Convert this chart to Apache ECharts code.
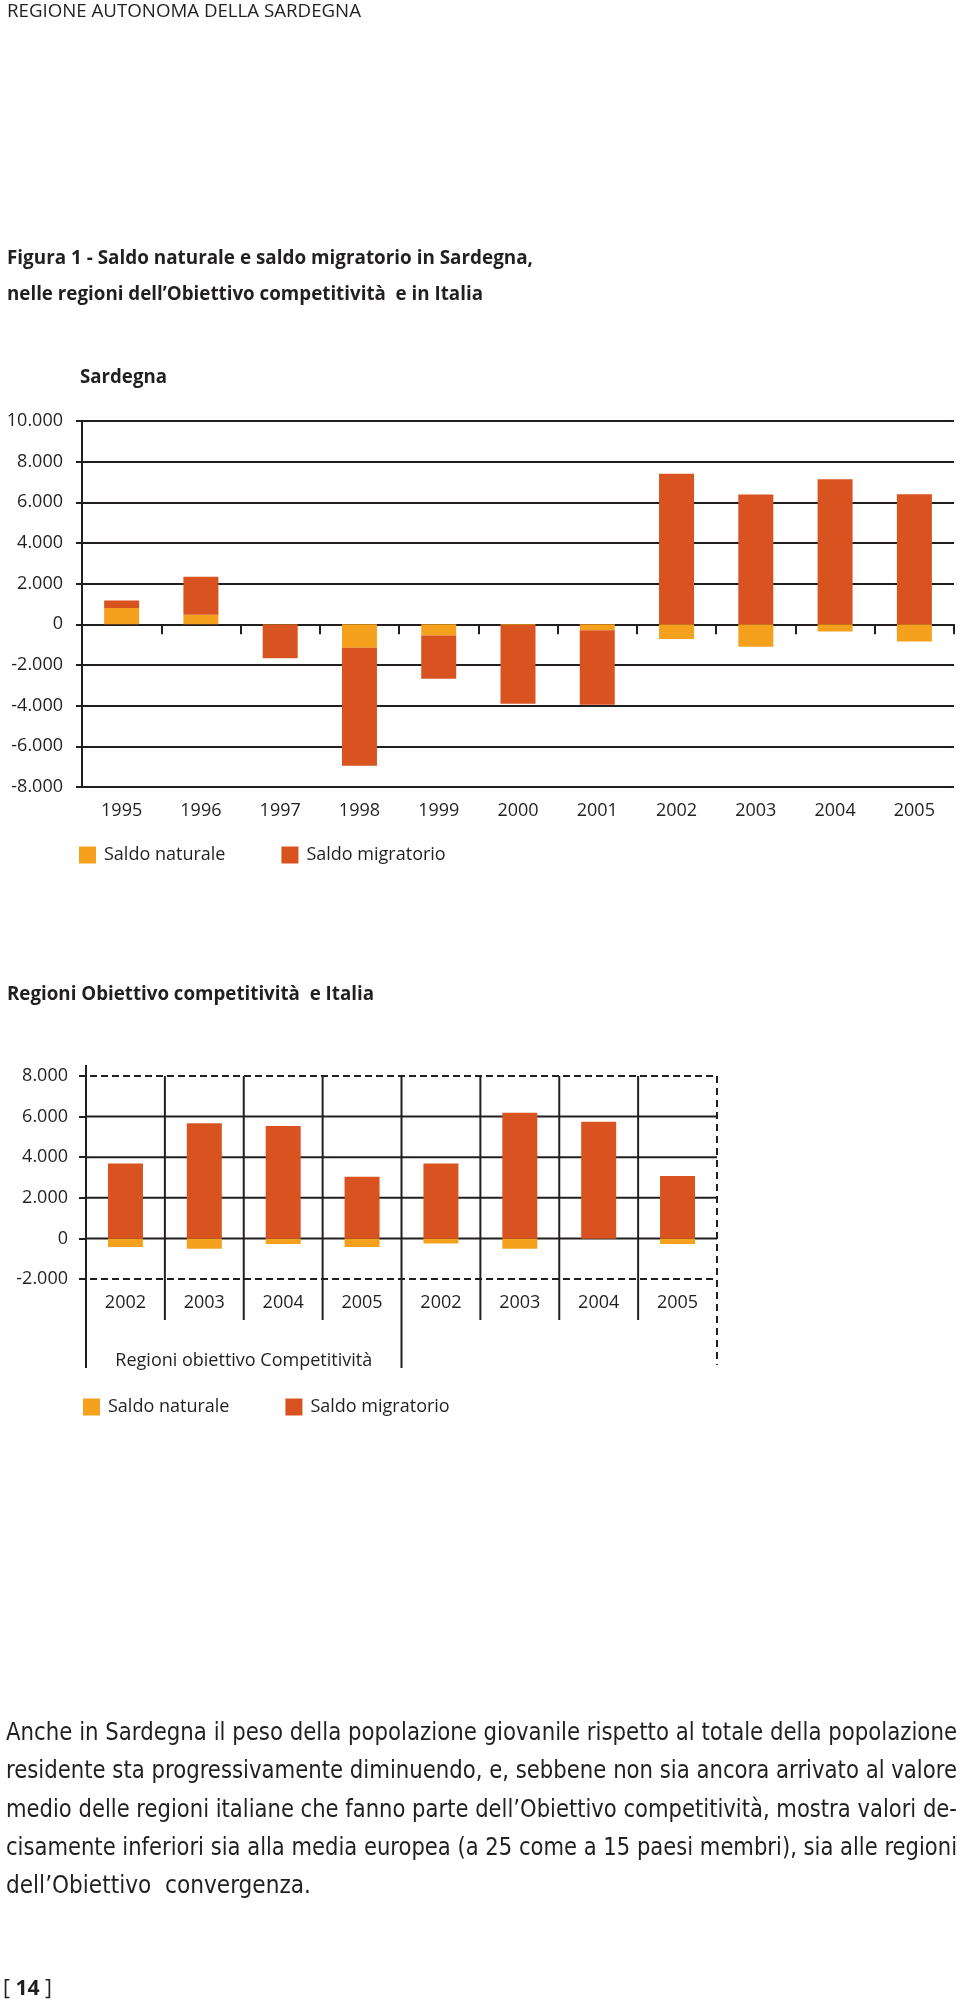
<!DOCTYPE html>
<html>
<head>
<meta charset="utf-8">
<script src="https://cdn.jsdelivr.net/npm/echarts@6/dist/echarts.min.js"></script>
<style>
  html, body { margin:0; padding:0; background:#fff; }
  body { width:960px; height:2002px; position:relative; overflow:hidden; }
  #chart { position:absolute; left:0; top:0; width:960px; height:2002px; }
  .t { position:absolute; white-space:nowrap; color:#231f20; font-family:"Open Sans", "Noto Sans", sans-serif; transform-origin:0 50%; z-index:5; }
  .b { font-weight:bold; }
  .p { font-family:"Liberation Sans Narrow","DejaVu Sans Condensed","Open Sans",sans-serif; font-size:25px; }
</style>
</head>
<body>
<div id="chart"></div>

<div class="t" data-w="354" data-cy="10" style="left:7px;font-size:19px;">REGIONE AUTONOMA DELLA SARDEGNA</div>
<div class="t b" data-w="526" data-cy="257" style="left:7px;font-size:19px;">Figura 1 - Saldo naturale e saldo migratorio in Sardegna,</div>
<div class="t b" data-w="476" data-cy="293" style="left:7px;font-size:19px;">nelle regioni dell’Obiettivo competitività&nbsp; e in Italia</div>
<div class="t b" data-w="87" data-cy="376" style="left:80px;font-size:19px;">Sardegna</div>
<div class="t b" data-w="367" data-cy="993" style="left:7px;font-size:19px;">Regioni Obiettivo competitività&nbsp; e Italia</div>

<div class="t p" data-w="951" data-j="1" data-cy="1731" style="left:6px;">Anche in Sardegna il peso della popolazione giovanile rispetto al totale della popolazione</div>
<div class="t p" data-w="951" data-j="1" data-cy="1769" style="left:6px;">residente sta progressivamente diminuendo, e, sebbene non sia ancora arrivato al valore</div>
<div class="t p" data-w="951" data-j="1" data-cy="1808" style="left:6px;">medio delle regioni italiane che fanno parte dell’Obiettivo competitività, mostra valori de-</div>
<div class="t p" data-w="951" data-j="1" data-cy="1846" style="left:6px;">cisamente inferiori sia alla media europea (a 25 come a 15 paesi membri), sia alle regioni</div>
<div class="t p" data-w="305" data-cy="1884" style="left:6px;">dell’Obiettivo&nbsp; convergenza.</div>

<div class="t" data-w="49" data-cy="1987" style="left:3px;font-size:21px;">[ <span class="b">14</span> ]</div>

<script>
// ---------- data ----------
const years1 = ['1995','1996','1997','1998','1999','2000','2001','2002','2003','2004','2005'];
const naturale1 = [800, 470, -20, -1150, -550, -30, -290, -720, -1100, -350, -840];
const migratorio1 = [370, 1870, -1650, -5800, -2130, -3880, -3660, 7400, 6380, 7140, 6400];
const yTicks1 = { min: -8000, max: 10000, step: 2000 };

const years2 = ['2002','2003','2004','2005','2002','2003','2004','2005'];
const groupLabels2 = ['Regioni obiettivo Competitività', ''];
const naturale2 = [-420, -516, -281, -420, -250, -516, -20, -281];
const migratorio2 = [3690, 5675, 5535, 3031, 3690, 6195, 5750, 3078];
const yTicks2 = [-2000, 0, 2000, 4000, 6000, 8000];

const seriesNames = ['Saldo naturale', 'Saldo migratorio'];

// ---------- styles ----------
const C_NAT = '#F6A11D';
const C_MIG = '#D8531F';
const INK = '#231f20';
const FONT = '"Open Sans", "Noto Sans", sans-serif';

const fmt = v => v === 0 ? '0' : (v < 0 ? '-' : '') + (Math.abs(v) / 1000) + '.000';

const chart = echarts.init(document.getElementById('chart'), null, { renderer: 'canvas' });

const yMin2 = yTicks2[0], yMax2 = yTicks2[yTicks2.length - 1];
const nCat2 = years2.length;
const groupBounds = [0, nCat2 / 2];

const option = {
  animation: false,
  backgroundColor: '#fff',
  textStyle: { fontFamily: FONT, color: INK },
  grid: [
    { left: 82, right: 6, top: 421, height: 366, outerBoundsMode: 'none', containLabel: false },
    { left: 86, right: 243, top: 1076, height: 203, outerBoundsMode: 'none', containLabel: false }
  ],
  legend: [
    { data: seriesNames, left: 74, top: 841, icon: 'rect', itemWidth: 17, itemHeight: 17, itemGap: 56,
      selectedMode: false, textStyle: { fontSize: 18, color: INK, fontFamily: FONT, padding: [0, 0, 0, 3] } },
    { data: seriesNames, left: 78, top: 1393, icon: 'rect', itemWidth: 17, itemHeight: 17, itemGap: 56,
      selectedMode: false, textStyle: { fontSize: 18, color: INK, fontFamily: FONT, padding: [0, 0, 0, 3] } }
  ],
  xAxis: [
    { type: 'category', gridIndex: 0, data: years1, boundaryGap: true,
      axisLine: { show: true, onZero: true, lineStyle: { color: INK, width: 2 } },
      axisTick: { show: true, length: 10, interval: 0, alignWithLabel: false, lineStyle: { color: INK, width: 2 } },
      axisLabel: { margin: 15, fontSize: 18, color: INK, fontFamily: FONT, interval: 0 },
      splitLine: { show: false } },
    { type: 'category', gridIndex: 1, data: years2, boundaryGap: true,
      axisLine: { show: false, onZero: false },
      axisTick: { show: false },
      axisLabel: { margin: 15, fontSize: 18, color: INK, fontFamily: FONT, interval: 0 },
      splitLine: { show: false } },
    { type: 'category', gridIndex: 1, data: groupLabels2, position: 'bottom', boundaryGap: true,
      axisLine: { show: false, onZero: false },
      axisTick: { show: false },
      axisLabel: { margin: 73, fontSize: 18, color: INK, fontFamily: FONT, interval: 0 },
      splitLine: { show: false } }
  ],
  yAxis: [
    { type: 'value', gridIndex: 0, min: yTicks1.min, max: yTicks1.max, interval: yTicks1.step,
      axisLine: { show: true, lineStyle: { color: INK, width: 2 } },
      axisTick: { show: true, length: 6, lineStyle: { color: INK, width: 2 } },
      axisLabel: { formatter: fmt, margin: 19, fontSize: 18, color: INK, fontFamily: FONT },
      splitLine: { show: true, lineStyle: { color: INK, width: 2 } } },
    { type: 'value', gridIndex: 1, min: yMin2, max: yMax2, interval: yTicks2[1] - yTicks2[0],
      axisLine: { show: false },
      axisTick: { show: true, length: 7, lineStyle: { color: INK, width: 2 } },
      axisLabel: { formatter: fmt, margin: 18, fontSize: 18, color: INK, fontFamily: FONT },
      splitLine: { show: false } }
  ],
  series: [
    { name: seriesNames[0], type: 'bar', xAxisIndex: 0, yAxisIndex: 0, stack: 's1', barWidth: 35,
      itemStyle: { color: C_NAT }, data: naturale1, z: 3 },
    { name: seriesNames[1], type: 'bar', xAxisIndex: 0, yAxisIndex: 0, stack: 's1', barWidth: 35,
      itemStyle: { color: C_MIG }, data: migratorio1, z: 3 },
    { name: seriesNames[0], type: 'bar', xAxisIndex: 1, yAxisIndex: 1, stack: 's2', barWidth: 35,
      itemStyle: { color: C_NAT }, data: naturale2, z: 3 },
    { name: seriesNames[1], type: 'bar', xAxisIndex: 1, yAxisIndex: 1, stack: 's2', barWidth: 35,
      itemStyle: { color: C_MIG }, data: migratorio2, z: 3 },
    // horizontal grid lines of chart 2 (top and bottom dashed)
    { type: 'custom', xAxisIndex: 1, yAxisIndex: 1, z: 1, silent: true, clip: false,
      data: yTicks2.map(v => [0, v]),
      renderItem: (params, api) => {
        const v = api.value(1);
        const y = api.coord([0, v])[1];
        const cs = params.coordSys;
        const dashed = (v === yMin2 || v === yMax2);
        return { type: 'line',
          shape: { x1: dashed ? cs.x - 7 : cs.x, y1: y, x2: cs.x + cs.width, y2: y },
          style: { stroke: INK, lineWidth: 2, lineDash: dashed ? [7, 4] : null } };
      } },
    // vertical separators of chart 2
    { type: 'custom', xAxisIndex: 1, yAxisIndex: 1, z: 1, silent: true, clip: false,
      data: Array.from({ length: nCat2 + 1 }, (_, b) => [0, 0, b]),
      renderItem: (params, api) => {
        const b = api.value(2);
        const cs = params.coordSys;
        const x = cs.x + cs.width * b / nCat2;
        const yTop = api.coord([0, yMax2])[1];
        const yBot = api.coord([0, yMin2])[1];
        let y1 = yTop, y2 = yBot + 41, dash = null;
        if (b === 0) { y1 = yTop - 11; y2 = yBot + 89; }
        else if (groupBounds.indexOf(b) >= 0) { y2 = yBot + 89; }
        else if (b === nCat2) { y2 = yBot + 86; dash = [7, 5]; }
        return { type: 'line', shape: { x1: x, y1: y1, x2: x, y2: y2 },
          style: { stroke: INK, lineWidth: 2, lineDash: dash } };
      } }
  ]
};
chart.setOption(option);

// ---------- fit html text lines to the reference widths ----------
document.querySelectorAll('.t').forEach(el => {
  const fs = parseFloat(getComputedStyle(el).fontSize);
  el.style.lineHeight = fs + 'px';
  el.style.top = (parseFloat(el.dataset.cy) - fs / 2) + 'px';
  const target = parseFloat(el.dataset.w);
  let w = el.getBoundingClientRect().width;
  if (el.dataset.j && w < target) {
    const spaces = (el.textContent.match(/ /g) || []).length;
    if (spaces) el.style.wordSpacing = ((target - w) / spaces) + 'px';
  } else if (w > 0) {
    el.style.transform = 'scaleX(' + (target / w) + ')';
  }
});
</script>
</body>
</html>
